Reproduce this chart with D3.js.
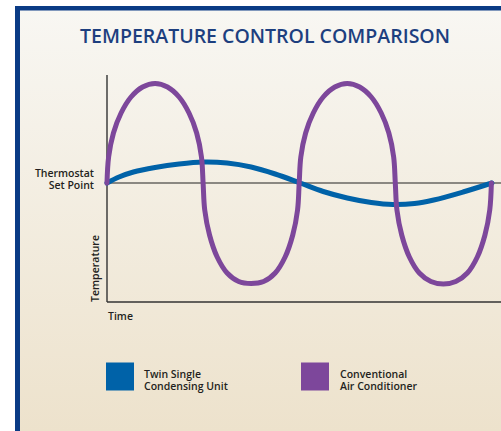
<!DOCTYPE html>
<html>
<head>
<meta charset="utf-8">
<script src="https://cdn.jsdelivr.net/npm/d3@7"></script>
<style>
  html, body { margin: 0; padding: 0; background: #ffffff; }
  svg { display: block; font-family: "Open Sans", "Noto Sans", sans-serif; }
</style>
</head>
<body>
<svg id="chart" width="501" height="431"></svg>
<script>
// Datos (tiempo en unidades arbitrarias, temperatura relativa al set point)
const title = "TEMPERATURE CONTROL COMPARISON";

const acTimes = [0, 0.034, 0.134, 0.293, 0.5, 0.741, 1.0, 1.259, 1.5, 1.707, 1.866, 1.966,
                 2.0, 2.034, 2.134, 2.293, 2.5, 2.741, 3.0, 3.259, 3.5, 3.707, 3.866, 3.966,
                 4.0, 4.034, 4.134, 4.293, 4.5, 4.741, 5.0, 5.259, 5.5, 5.707, 5.866, 5.966,
                 6.0, 6.034, 6.134, 6.293, 6.5, 6.741, 7.0, 7.259, 7.5, 7.707, 7.866, 7.966, 8.0];
const acTemps = [0, 2.6, 5.0, 7.0, 8.6, 9.6, 9.95, 9.6, 8.6, 7.0, 5.0, 2.6,
                 0, -2.7, -5.2, -7.4, -9.0, -9.85, -10.05, -9.85, -9.0, -7.4, -5.2, -2.7,
                 0, 2.6, 5.0, 7.0, 8.6, 9.6, 9.95, 9.6, 8.6, 7.0, 5.0, 2.6,
                 0, -2.7, -5.2, -7.4, -9.0, -9.85, -10.1, -9.85, -9.0, -7.4, -5.2, -2.7, 0];

const twinTimes = [0, 0.25, 0.55, 1.0, 1.5, 2.0, 2.5, 3.0, 3.5, 4.02, 4.5, 5.0, 5.5, 5.95, 6.4, 6.8, 7.41, 8.01];
const twinTemps = [0, 0.6, 1.1, 1.55, 1.9, 2.1, 2.0, 1.6, 0.9, 0, -0.85, -1.5, -1.95, -2.15, -2.05, -1.7, -0.9, 0];

const legendLabels = [["Twin Single", "Condensing Unit"], ["Conventional", "Air Conditioner"]];
const seriesColors = ["#0062a8", "#7d479b"];
const setPointLabel = ["Thermostat", "Set Point"];

const svg = d3.select("#chart");

// Fondo con degradado
const defs = svg.append("defs");
const grad = defs.append("linearGradient")
    .attr("id", "bg")
    .attr("x1", 0).attr("y1", 0).attr("x2", 0).attr("y2", 1);
grad.append("stop").attr("offset", "0%").attr("stop-color", "#f8f7f3");
grad.append("stop").attr("offset", "100%").attr("stop-color", "#ede2cc");

svg.append("rect")
    .attr("x", 15).attr("y", 6)
    .attr("width", 486).attr("height", 425)
    .attr("fill", "url(#bg)");

// Borde azul marino
svg.append("rect").attr("x", 15).attr("y", 6).attr("width", 5).attr("height", 425).attr("fill", "#0a3b85");
svg.append("rect").attr("x", 15).attr("y", 6).attr("width", 486).attr("height", 4.5).attr("fill", "#0a3b85");

// Titulo
svg.append("text")
    .attr("x", 265)
    .attr("y", 43)
    .attr("text-anchor", "middle")
    .attr("font-size", "19.5px")
    .attr("font-weight", 600)
    .attr("fill", "#1d3f7f")
    .attr("textLength", 370)
    .attr("lengthAdjust", "spacingAndGlyphs")
    .text(title);

// Escalas
const x = d3.scaleLinear().domain([0, 8.2]).range([107, 501]);
const y = d3.scaleLinear().domain([-11.9, 10.8]).range([302, 75]);

// Ejes (sin marcas)
const axisColor = "#333333";
svg.append("line")
    .attr("x1", x(0)).attr("x2", x(0))
    .attr("y1", y(10.8)).attr("y2", y(-11.9))
    .attr("stroke", axisColor).attr("stroke-width", 1.4);
svg.append("line")
    .attr("x1", x(0)).attr("x2", x(8.2))
    .attr("y1", y(-11.9)).attr("y2", y(-11.9))
    .attr("stroke", axisColor).attr("stroke-width", 1.4);

// Linea del set point
svg.append("line")
    .attr("x1", x(0)).attr("x2", x(8.2))
    .attr("y1", y(0)).attr("y2", y(0))
    .attr("stroke", "#222222").attr("stroke-width", 1.2);

// Curvas
const line = d3.line()
    .x(d => x(d[0]))
    .y(d => y(d[1]))
    .curve(d3.curveCatmullRom.alpha(0.5));

const acData = acTimes.map((t, i) => [t, acTemps[i]]);
const twinData = twinTimes.map((t, i) => [t, twinTemps[i]]);

svg.append("path")
    .datum(twinData)
    .attr("fill", "none")
    .attr("stroke", seriesColors[0])
    .attr("stroke-width", 5)
    .attr("stroke-linecap", "round")
    .attr("d", line);

svg.append("path")
    .datum(acData)
    .attr("fill", "none")
    .attr("stroke", seriesColors[1])
    .attr("stroke-width", 5)
    .attr("stroke-linecap", "round")
    .attr("d", line);

// Etiquetas
const labelColor = "#231f20";
const spText = svg.append("text")
    .attr("text-anchor", "end")
    .attr("font-size", "10.5px")
    .attr("font-weight", 600)
    .attr("fill", labelColor);
setPointLabel.forEach((s, i) => {
    spText.append("tspan").attr("x", 94).attr("y", 177 + i * 12).text(s);
});

svg.append("text")
    .attr("transform", `translate(99, ${y(-11.9)}) rotate(-90)`)
    .attr("font-size", "10.5px")
    .attr("font-weight", 600)
    .attr("fill", labelColor)
    .attr("textLength", 67)
    .text("Temperature");

svg.append("text")
    .attr("x", 108)
    .attr("y", 320)
    .attr("font-size", "10.5px")
    .attr("font-weight", 600)
    .attr("fill", labelColor)
    .text("Time");

// Leyenda
const legendX = [106, 301];
legendLabels.forEach((lines, i) => {
    const g = svg.append("g").attr("transform", `translate(${legendX[i]}, 362.5)`);
    g.append("rect")
        .attr("width", 28).attr("height", 28)
        .attr("fill", seriesColors[i]);
    const t = g.append("text")
        .attr("font-size", "10.5px")
        .attr("font-weight", 600)
        .attr("fill", labelColor);
    lines.forEach((s, j) => {
        t.append("tspan").attr("x", i === 0 ? 38 : 39).attr("y", 15 + j * 12).text(s);
    });
});
</script>
</body>
</html>
